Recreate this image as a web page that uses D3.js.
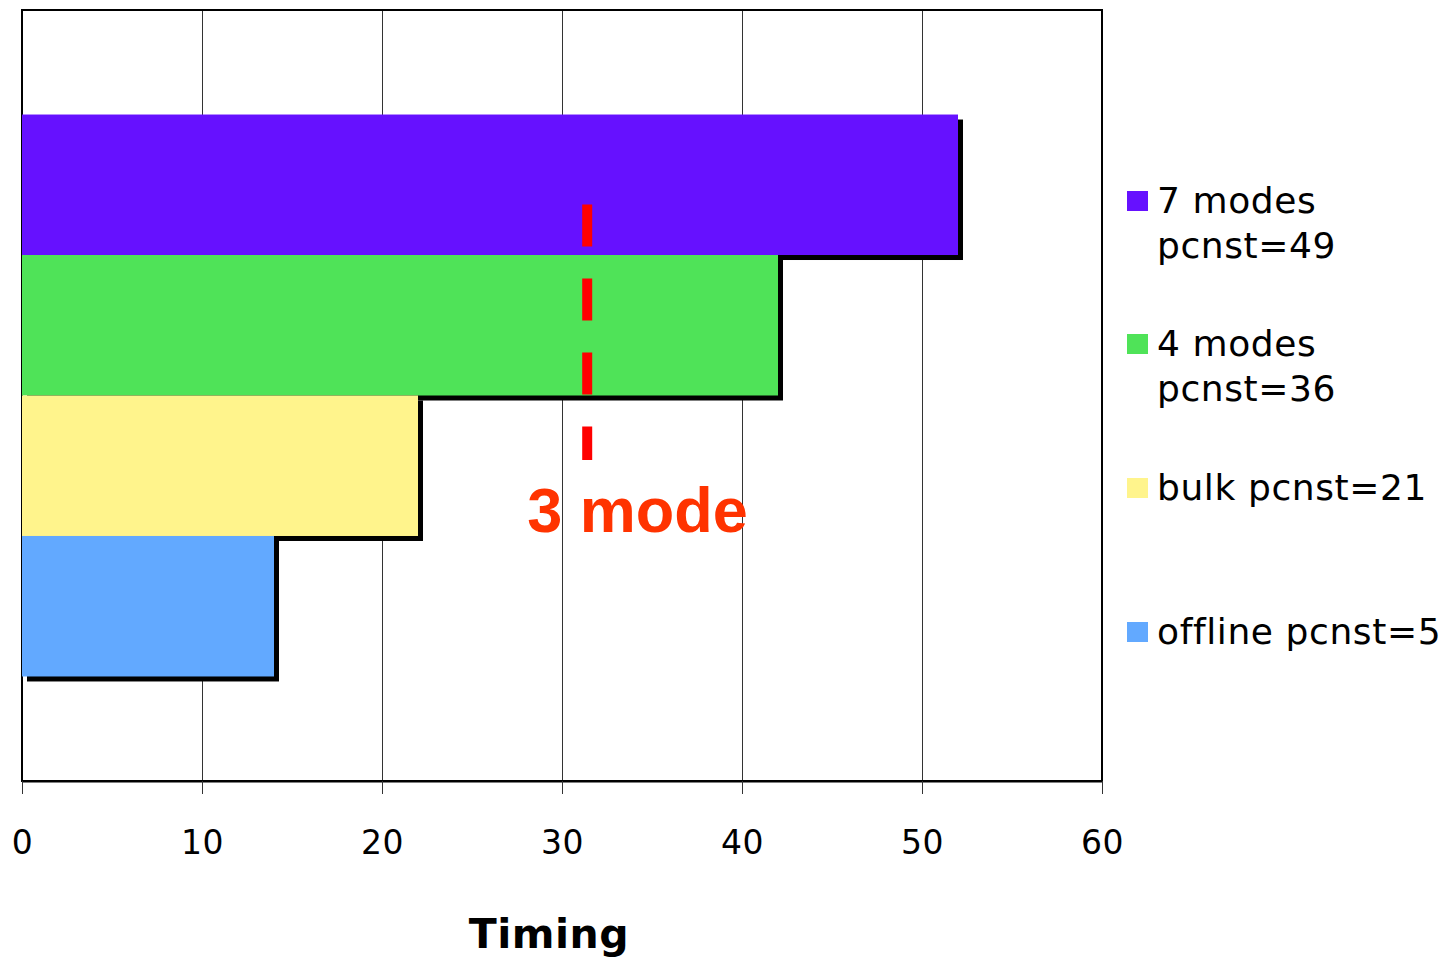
<!DOCTYPE html>
<html>
<head>
<meta charset="utf-8">
<script src="https://cdn.jsdelivr.net/npm/d3@7"></script>
<style>
  body { margin: 0; background: #fff; }
  svg { display: block; }
</style>
</head>
<body>
<svg width="1445" height="959"></svg>
<script>
// Chart data.
const categories = ["7 modes", "4 modes", "bulk", "offline"];
const timings = [52, 42, 22, 14];
const colors = ["#6611ff", "#4fe358", "#fff48c", "#62a9ff"];
const legendLines = [
  ["7 modes", "pcnst=49"],
  ["4 modes", "pcnst=36"],
  ["bulk pcnst=21"],
  ["offline pcnst=5"]
];
const xTicks = [0, 10, 20, 30, 40, 50, 60];
const markerValue = 31.4;
const markerLabel = "3 mode";

function initGraph() {
  const svg = d3.select("svg");

  // Plot area in page pixels.
  const margin = { top: 10, left: 22 };
  const width = 1080;
  const height = 771;

  const content = svg.append("g")
    .attr("transform", "translate(" + margin.left + "," + margin.top + ")");

  const xScale = d3.scaleLinear().domain([0, 60]).range([0, width]);
  const yScale = d3.scaleBand()
    .domain(categories)
    .range([0, height])
    .paddingInner(0)
    .paddingOuter(0.744);

  return { svg, content, margin, width, height, xScale, yScale };
}

function drawGrid(graph) {
  const { content, xScale, height } = graph;

  content.selectAll(".grid")
    .data(xTicks.slice(1, -1))
    .enter()
    .append("line")
    .attr("class", "grid")
    .attr("x1", d => xScale(d) + 0.5)
    .attr("x2", d => xScale(d) + 0.5)
    .attr("y1", 0)
    .attr("y2", height)
    .attr("stroke", "#333")
    .attr("stroke-width", 1)
    .attr("shape-rendering", "crispEdges");

  // plot frame
  content.append("rect")
    .attr("x", 0)
    .attr("y", 0)
    .attr("width", graph.width)
    .attr("height", height)
    .attr("fill", "none")
    .attr("stroke", "#000")
    .attr("stroke-width", 2);
}

function drawXAxis(graph) {
  const xAxis = d3.axisBottom(graph.xScale)
    .tickValues(xTicks)
    .tickSize(13)
    .tickPadding(37)
    .tickSizeOuter(0);

  const g = graph.content.append("g")
    .attr("class", "x axis")
    .attr("transform", "translate(0," + graph.height + ")")
    .call(xAxis);

  g.select(".domain").attr("stroke-width", 2);
  g.selectAll(".tick line")
    .attr("stroke", "#333")
    .attr("stroke-width", 1)
    .attr("shape-rendering", "crispEdges");
  g.selectAll(".tick text")
    .attr("font-family", "DejaVu Sans, Verdana, sans-serif")
    .attr("font-size", 33)
    .attr("letter-spacing", 0.5)
    .attr("fill", "#000");

  graph.svg.append("text")
    .attr("x", 549)
    .attr("y", 948)
    .attr("text-anchor", "middle")
    .attr("font-family", "DejaVu Sans, Verdana, sans-serif")
    .attr("font-weight", "bold")
    .attr("font-size", 41)
    .attr("letter-spacing", 0.5)
    .text("Timing");
}

function drawBars(graph) {
  const { content, xScale, yScale } = graph;
  const data = categories.map((c, i) => ({ name: c, value: timings[i], color: colors[i] }));
  const shadow = 5;

  // draw shadow + bar per row, top to bottom, so lower bars cover upper shadows
  const rows = content.selectAll(".bar")
    .data(data)
    .enter()
    .append("g")
    .attr("class", "bar");

  rows.append("rect")
    .attr("x", xScale(0) + shadow)
    .attr("y", d => yScale(d.name) + shadow)
    .attr("width", d => xScale(d.value) - xScale(0))
    .attr("height", yScale.bandwidth())
    .attr("fill", "#000");

  rows.append("rect")
    .attr("x", xScale(0))
    .attr("y", d => yScale(d.name))
    .attr("width", d => xScale(d.value) - xScale(0))
    .attr("height", yScale.bandwidth())
    .attr("fill", d => d.color);
}

function drawMarker(graph) {
  const { content, xScale, yScale } = graph;
  const bw = yScale.bandwidth();
  const y0 = yScale(categories[0]) + 0.64 * bw;
  const y1 = yScale(categories[2]) + 0.46 * bw;

  content.append("line")
    .attr("x1", xScale(markerValue))
    .attr("x2", xScale(markerValue))
    .attr("y1", y0)
    .attr("y2", y1)
    .attr("stroke", "#ff0000")
    .attr("stroke-width", 10)
    .attr("stroke-dasharray", "42,32");

  content.append("text")
    .attr("x", xScale(34.2))
    .attr("y", yScale(categories[2]) + 0.97 * bw)
    .attr("text-anchor", "middle")
    .attr("font-family", "Liberation Sans, Arial, sans-serif")
    .attr("font-weight", "bold")
    .attr("font-size", 63)
    .attr("fill", "#ff3300")
    .text(markerLabel);
}

function drawLegend(graph) {
  const legend = graph.svg.append("g")
    .attr("transform", "translate(1127,0)");
  const rowY = [191, 334, 478, 622];

  const items = legend.selectAll(".item")
    .data(legendLines)
    .enter()
    .append("g")
    .attr("class", "item")
    .attr("transform", (d, i) => "translate(0," + rowY[i] + ")");

  items.append("rect")
    .attr("width", 21)
    .attr("height", 20)
    .attr("fill", (d, i) => colors[i]);

  items.append("text")
    .attr("font-family", "DejaVu Sans, Verdana, sans-serif")
    .attr("font-size", 36)
    .attr("letter-spacing", 0.6)
    .attr("fill", "#000")
    .selectAll("tspan")
    .data(d => d)
    .enter()
    .append("tspan")
    .attr("x", 30)
    .attr("y", (d, i) => 22 + i * 45)
    .text(d => d);
}

window.addEventListener("load", function() {
  const graph = initGraph();
  drawGrid(graph);
  drawXAxis(graph);
  drawBars(graph);
  drawMarker(graph);
  drawLegend(graph);
});
</script>
</body>
</html>
